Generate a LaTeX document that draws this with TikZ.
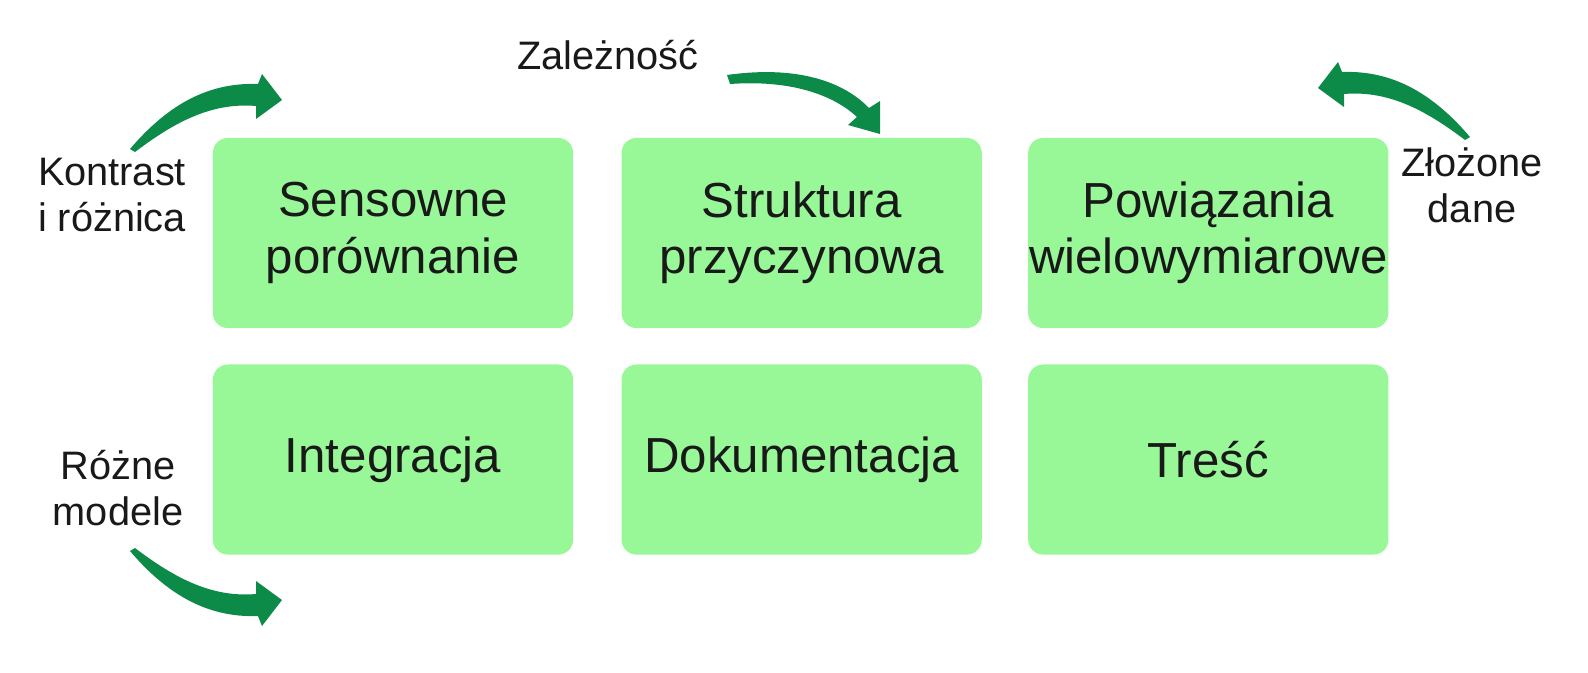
\documentclass[tikz,border=0pt]{standalone}
\usepackage{fontspec}
\setmainfont{Liberation Sans}
\usetikzlibrary{positioning}
\definecolor{boxgreen}{RGB}{152,248,152}
\definecolor{arrowgreen}{RGB}{12,138,72}
\newcommand{\bendarrow}{(130,149) .. controls (165,108) and (205,82) .. (258,84) -- (262,74) -- (282,100) -- (256,119) -- (256,106) .. controls (210,102) and (172,124) .. (135,152) -- cycle}
\tikzset{
  box/.style={fill=boxgreen, rounded corners=0.15cm, minimum width=3.6cm, minimum height=1.9cm, align=center, inner sep=0pt, font=\fontsize{14}{16}\selectfont, text=black!90},
  lbl/.style={align=center, font=\fontsize{11.3}{13.2}\selectfont, text=black!90},
  curvy/.style={fill=arrowgreen}
}
\begin{document}
\begin{tikzpicture}[x=0.01cm,y=-0.01cm]
  \useasboundingbox (0,0) rectangle (1588,672);
  \node[box] (sens) at (393,233) {Sensowne\\porównanie};
  \node[box, right=0.47cm of sens] (struk) {Struktura\\przyczynowa};
  \node[box, right=0.45cm of struk] (powi) {Powiązania\\wielowymiarowe};
  \node[box, below=0.35cm of sens] (integ) {Integracja};
  \node[box, below=0.35cm of struk] (doku) {Dokumentacja};
  \node[box, below=0.35cm of powi] (tresc) {Treść};

  \node[lbl] (kontrast) at (112,195) {Kontrast\\i różnica};
  \node[lbl] (rozne) at (118,488) {Różne\\modele};
  \node[lbl] (zalez) at (608,55) {Zależność};
  \node[lbl] (zlozone) at (1472,185) {Złożone\\dane};

  \fill[curvy] \bendarrow;
  \fill[curvy, shift={(1600,-12)}, xscale=-1] \bendarrow;
  \fill[curvy, shift={(0,700)}, yscale=-1] \bendarrow;
  \fill[curvy] (727,75) .. controls (790,66) and (840,78) .. (869,108) -- (880,101) -- (880,134) -- (848,125) -- (857,117) .. controls (830,92) and (785,80) .. (730,84) -- cycle;
\end{tikzpicture}
\end{document}
